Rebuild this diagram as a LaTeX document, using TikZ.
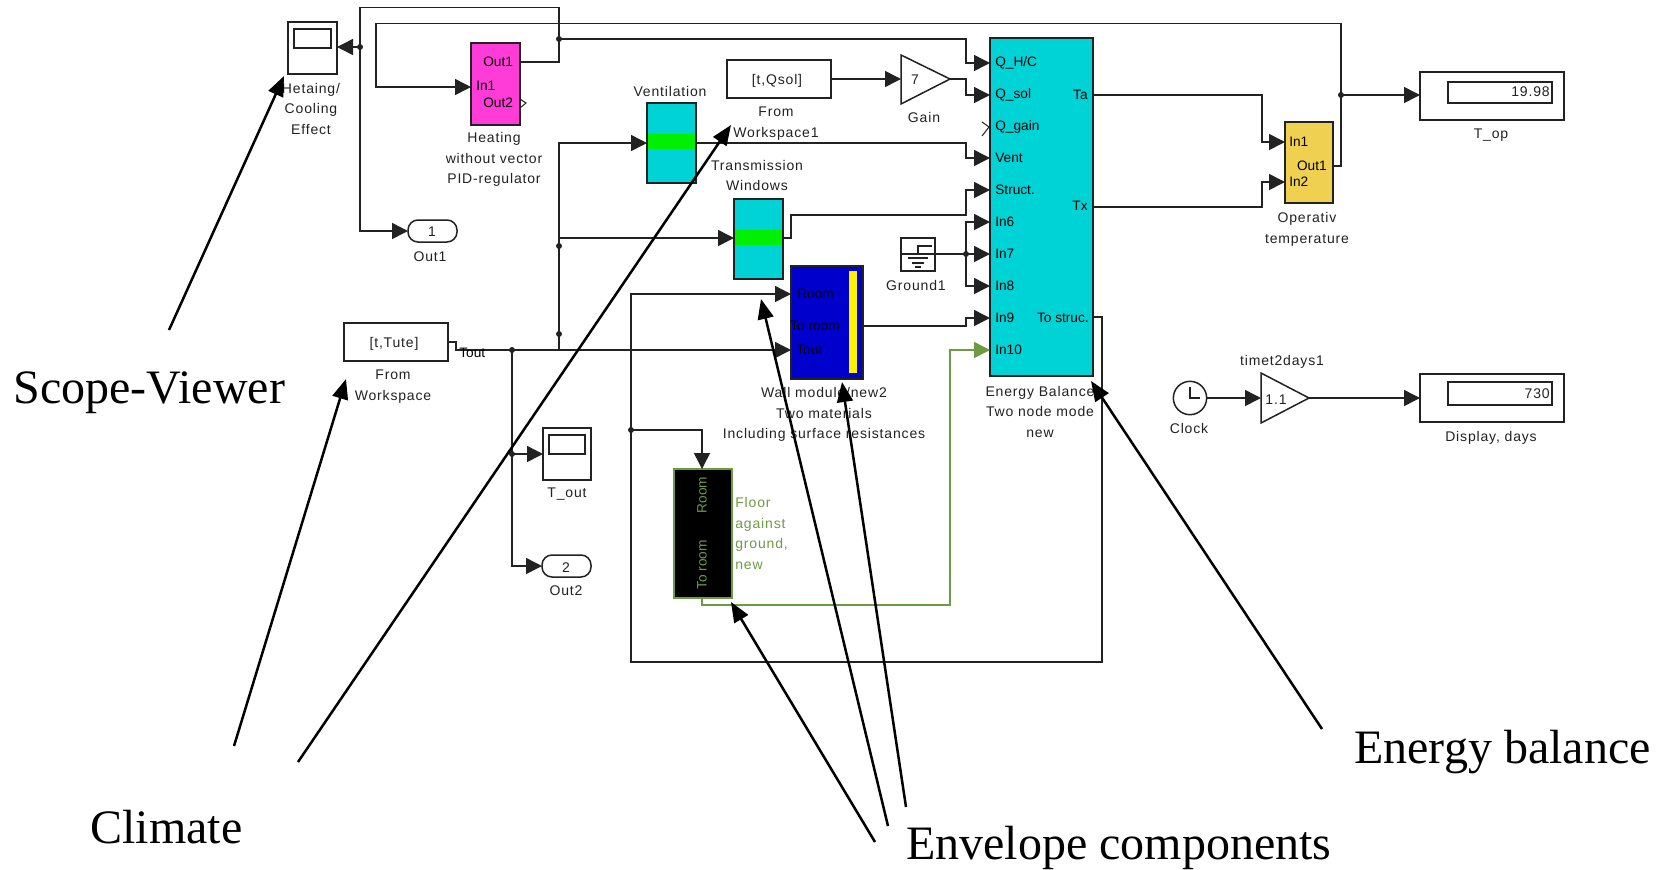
\documentclass[tikz,border=0pt]{standalone}
\usepackage{fontspec}
\setmainfont{Liberation Serif}
\newfontfamily\simfont[LetterSpace=6]{Liberation Sans}
\newfontfamily\portfont{Liberation Sans}
\usetikzlibrary{arrows.meta}
\definecolor{ink}{HTML}{222222}
\definecolor{leaf}{HTML}{6F9A45}
\definecolor{tealb}{HTML}{00D3D6}
\definecolor{pinkb}{HTML}{FF3CD8}
\definecolor{blueb}{HTML}{0000CC}
\definecolor{goldb}{HTML}{F0D050}
\tikzset{
  wire/.style={draw=ink,line width=0.9pt,-{Triangle[length=9.6pt,width=9.6pt]}},
  plain/.style={draw=ink,line width=0.9pt},
  dot/.style={circle,fill=ink,draw=none,inner sep=0pt,minimum size=3.6pt},
  lab/.style={font=\simfont\fontsize{8.4}{12.3}\selectfont,text=ink,align=center,inner sep=0pt,yshift=-0.9pt},
  port/.style={font=\portfont\fontsize{8.2}{10}\selectfont,text=black,inner sep=0pt},
  note/.style={font=\fontsize{28.8}{32}\selectfont,text=black,inner sep=0pt,anchor=west},
  big/.style={draw=black,line width=1.5pt,-{Triangle[length=12pt,width=9.5pt]}},
  bord/.style={draw=ink,line width=0.9pt}
}
\newcommand{\blk}[6][]{\node[bord,inner sep=0pt,outer sep=0pt,minimum width={(#4-#2)*0.6pt},minimum height={(#5-#3)*0.6pt},#1] (#6) at ({(#2+#4)/2},{(#3+#5)/2}) {};}
\begin{document}
\begin{tikzpicture}[x=0.6pt,y=-0.6pt]
\useasboundingbox (0,0) rectangle (1661,869);
\fill[white] (0,0) rectangle (1661,869);
% blocks
\blk{288}{22}{337}{74}{scopeA}
\blk{294}{29}{331}{48}{screenA}
\blk[fill=pinkb]{471}{43}{520}{125}{pink}
\blk[rounded corners=6pt]{408}{220}{457}{242}{outA}
\blk{344}{323}{448}{361}{fromW}
\blk{727}{60}{831}{98}{fromWB}
\blk[fill=tealb]{647}{103}{696}{183}{vent}
\blk[draw=none,fill=green!94!black]{648}{134}{695}{149}{ventS}
\blk[fill=tealb]{734}{199}{783}{279}{trans}
\blk[draw=none,fill=green!94!black]{735}{230}{782}{245}{transS}
\blk[fill=blueb]{791}{266}{863}{379}{wall}
\blk[draw=none,fill=yellow]{849}{271}{857}{373}{wallS}
\blk[fill=tealb]{990}{38}{1093}{376}{energy}
\blk[fill=goldb]{1285}{122}{1333}{203}{oper}
\blk{1420}{72}{1564}{120}{topD}
\blk{1448}{82}{1552}{103}{topS}
\blk{1420}{374}{1564}{422}{dayD}
\blk{1448}{382}{1552}{405}{dayS}
\blk{543}{428}{591}{480}{scopeB}
\blk{549}{435}{585}{454}{screenB}
\blk[rounded corners=6pt]{542}{555}{591}{577}{outB}
\blk[fill=black,draw=leaf]{674}{469}{732}{598}{floor}
\blk{901}{238}{935}{271}{ground}
\node[bord,circle,inner sep=0pt,outer sep=0pt,minimum size=20pt] (clock) at (1190,398) {};
% gains
\coordinate (gainW) at (901,79); \coordinate (gainE) at (950,79);
\draw[bord,fill=white] (901,55) -- (950,79) -- (901,104) -- cycle;
\coordinate (tdW) at (1261,398); \coordinate (tdE) at (1309,398);
\draw[bord,fill=white] (1261,373) -- (1309,398) -- (1261,423) -- cycle;
% glyphs in blocks
\draw[bord,line width=0.7pt] (935,254) -- (918,254) -- (918,246) -- (932,246);
\draw[bord,line width=0.7pt] (901,254) -- (918,254);
\draw[bord,line width=0.7pt] (908,258) -- (928,258) (912,263) -- (924,263) (915,267) -- (921,267);
\draw[bord,line width=0.7pt] (1190,387) -- (1190,398) -- (1200,398);
\draw[bord,line width=0.6pt] (520,99) -- (526,103) -- (520,108);
\draw[bord,line width=0.6pt] (982,122) -- (989,127) -- (982,136);
% junctions
\coordinate (jA) at (360,47);
\coordinate (jB) at (559,39);
\coordinate (jC) at (1341,95);
\coordinate (jD) at (559,334);
\coordinate (jE) at (559,246);
\coordinate (jF) at (512,350);
\coordinate (jG) at (512,454);
\coordinate (jH) at (631,430);
\coordinate (jI) at (966,254);
% ports on energy
\coordinate (eQhc) at (990,63);
\coordinate (eQsol) at (990,95);
\coordinate (eVent) at (990,158);
\coordinate (eStr) at (990,190);
\coordinate (eSix) at (990,222);
\coordinate (eSev) at (990,254);
\coordinate (eEig) at (990,286);
\coordinate (eNin) at (990,318);
\coordinate (eTen) at (990,350);
\coordinate (eTa) at (1093,95);
\coordinate (eTx) at (1093,207);
\coordinate (eOut) at (1093,317);
\coordinate (wRoom) at (791,294);
\coordinate (wTout) at (791,350);
\coordinate (wOut) at (863,326);
\coordinate (pOne) at (520,62);
\coordinate (pIn) at (471,87);
\coordinate (oIn1) at (1285,142);
\coordinate (oIn2) at (1285,182);
\coordinate (oOut) at (1333,166);
% wires
\draw[wire] (jA) -- (scopeA.east |- jA);
\draw[plain] (pOne) -- (559,62) -- (559,7.5) -- (360,7.5) -- (jA);
\draw[wire] (jA) -- (360,231) -- (outA.west |- 0,231);
\draw[wire] (jB) -- (966,39) -- (966,63) -- (eQhc);
\draw[wire] (oOut) -- (1341,166) -- (1341,23.5) -- (376,23.5) -- (376,87) -- (pIn);
\draw[wire] (fromWB.east |- gainW) -- (gainW);
\draw[wire] (gainE) -- (966,79) -- (966,95) -- (eQsol);
\draw[wire] (jD |- 0,350) -- (559,143) -- (vent.west |- 0,143);
\draw[wire] (559,238) -- (trans.west |- 0,238);
\draw[wire] (vent.east |- 0,143) -- (966,143) -- (966,158) -- (eVent);
\draw[wire] (trans.east |- 0,238) -- (791,238) -- (791,215) -- (966,215) -- (966,190) -- (eStr);
\draw[plain] (fromW.east |- 0,342) -- (456,342) -- (456,350) -- (jF);
\draw[wire] (jF) -- (wTout);
\draw[wire] (jF) -- (512,566) -- (outB.west |- 0,566);
\draw[wire] (jG) -- (scopeB.west |- jG);
\draw[wire] (eOut) -- (1102,317) -- (1102,662) -- (631,662) -- (631,294) -- (wRoom);
\draw[wire] (jH) -- (702,430) -- (floor.north -| 702,0);
\draw[wire] (wOut) -- (966,326) -- (966,318) -- (eNin);
\draw[wire] (ground.east |- jI) -- (jI) -- (eSev);
\draw[wire] (jI) -- (966,222) -- (eSix);
\draw[wire] (jI) -- (966,286) -- (eEig);
\draw[wire,draw=leaf] (floor.south -| 702,0) -- (702,605) -- (950,605) -- (950,350) -- (eTen);
\draw[wire] (eTa) -- (1262,95) -- (1262,142) -- (oIn1);
\draw[wire] (eTx) -- (1262,207) -- (1262,182) -- (oIn2);
\draw[wire] (jC) -- (topD.west |- jC);
\draw[wire] (clock.east) -- (tdW);
\draw[wire] (tdE) -- (dayD.west |- tdE);
\foreach \j in {jA,jB,jC,jD,jE,jF,jG,jH,jI} \node[dot] (dot\j) at (\j) {};
% block texts
\node[lab] (tOutA) at (432,230) {1};
\node[lab] (tOutB) at (566,566) {2};
\node[lab] (tFromW) at (394,342) {[t,Tute]};
\node[lab] (tFromWB) at (777,79) {[t,Qsol]};
\node[lab] (tGain) at (915,78) {7};
\node[lab] (tTd) at (1276,398) {1.1};
\node[lab,anchor=east] (tTop) at (1550,90) {19.98};
\node[lab,anchor=east] (tDay) at (1550,392) {730};
\node[port,anchor=west] (pOut1) at (483,62) {Out1};
\node[port,anchor=west] (pIn1) at (476,86) {In1};
\node[port,anchor=west] (pOut2) at (483,103) {Out2};
\foreach \n/\t/\y in {a/Q\_H\slash C/63,b/Q\_sol/95,c/Q\_gain/127,d/Vent/158,e/Struct./190,f/In6/222,g/In7/254,h/In8/286,i/In9/318,j/In10/350}
  \node[port,anchor=west] (eP\n) at (995,\y) {\t};
\node[port,anchor=east] (eTaT) at (1088,95) {Ta};
\node[port,anchor=east] (eTxT) at (1088,206) {Tx};
\node[port,anchor=east] (eStT) at (1089,318) {To struc.};
\node[port,anchor=west] (wR) at (797,294) {Room};
\node[port,anchor=west] (wT) at (790,326) {To room};
\node[port,anchor=west] (wU) at (796,350) {Tout};
\node[port,anchor=west] (oA) at (1289,142) {In1};
\node[port,anchor=west] (oB) at (1289,182) {In2};
\node[port,anchor=east] (oC) at (1327,166) {Out1};
\node[port,text=leaf,rotate=90] (fR) at (702,495) {Room};
\node[port,text=leaf,rotate=90] (fT) at (702,565) {To room};
\node[port,anchor=west] (sT) at (459,353) {Tout};
% labels
\node[lab] (lA) at (311,107) {Hetaing/\\Cooling\\Effect};
\node[lab] (lB) at (494,158) {Heating\\without vector\\PID-regulator};
\node[lab] (lC) at (430,255) {Out1};
\node[lab] (lD) at (670,90) {Ventilation};
\node[lab] (lE) at (776,122) {From\\Workspace1};
\node[lab] (lF) at (757,174) {Transmission\\Windows};
\node[lab] (lG) at (924,116) {Gain};
\node[lab] (lH) at (916,284) {Ground1};
\node[lab] (lI) at (393,385) {From\\Workspace};
\node[lab] (lJ) at (824,413) {Wall module/new2\\Two materials\\Including surface resistances};
\node[lab] (lK) at (1040,410) {Energy Balance\\Two node mode\\new};
\node[lab] (lL) at (1307,228) {Operativ\\temperature};
\node[lab] (lM) at (1491,134) {T\_op};
\node[lab] (lN) at (1491,436) {Display, days};
\node[lab] (lO) at (1282,360) {timet2days1};
\node[lab] (lP) at (1189,427) {Clock};
\node[lab] (lQ) at (567,493) {T\_out};
\node[lab] (lR) at (566,589) {Out2};
\node[lab,text=leaf,align=left,anchor=north west] (lS) at (735,496) {Floor\\against\\ground,\\ new};
% annotations
\node[note] (nA) at (13,393) {Scope-Viewer};
\node[note] (nB) at (90,827) {Climate};
\node[note] (nC) at (906,848) {Envelope components};
\node[note] (nD) at (1354,752) {Energy balance};
\coordinate (sA) at (169,330);
\coordinate (sB) at (234,746);
\coordinate (sC) at (298,762);
\coordinate (sD) at (875,842);
\coordinate (sE) at (888,826);
\coordinate (sF) at (906,807);
\coordinate (sG) at (1322,729);
\draw[big] (sA) -- (284,76);
\draw[big] (sB) -- (346,379);
\draw[big] (sC) -- (731,125);
\draw[big] (sD) -- (731,602);
\draw[big] (sE) -- (761,299);
\draw[big] (sF) -- (842,382);
\draw[big] (sG) -- (1091,381);
\end{tikzpicture}
\end{document}
